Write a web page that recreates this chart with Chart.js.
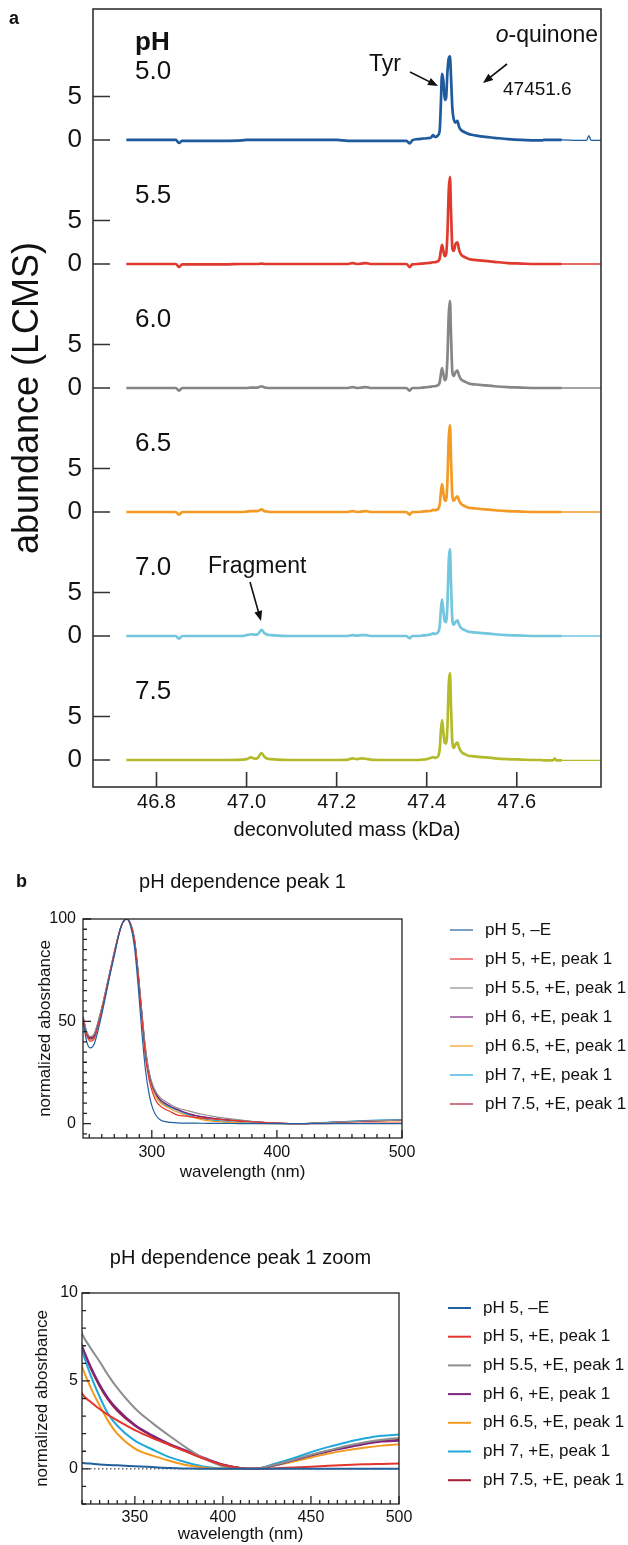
<!DOCTYPE html>
<html>
<head>
<meta charset="utf-8">
<script src="https://cdn.jsdelivr.net/npm/chart.js@4.4.1/dist/chart.umd.min.js"></script>
<style>
  body { margin: 0; background: #fff; }
  #page { position: relative; width: 628px; height: 1545px; }
  canvas { position: absolute; left: 0; }
</style>
</head>
<body>
<div id="page">
  <canvas id="lcms" width="628" height="850" style="top:0"></canvas>
  <canvas id="uvFull" width="628" height="330" style="top:860px"></canvas>
  <canvas id="uvZoom" width="628" height="315" style="top:1230px"></canvas>
</div>
<script>
Chart.defaults.font.family = "'Liberation Sans', Arial, Helvetica, sans-serif";
Chart.defaults.color = "#111";

// ---- panel a: LCMS traces ----
const massKDa = [46.733, 46.78, 46.843, 46.85, 46.857, 46.865, 46.9, 46.95, 46.99, 47.0,
  47.01, 47.018, 47.025, 47.033, 47.04, 47.047, 47.055, 47.07, 47.1, 47.15,
  47.2, 47.225, 47.235, 47.245, 47.255, 47.265, 47.275, 47.3, 47.355, 47.362,
  47.368, 47.38, 47.39, 47.40, 47.41, 47.414, 47.418, 47.422, 47.426, 47.429,
  47.431, 47.434, 47.437, 47.440, 47.443, 47.446, 47.449, 47.4516, 47.454, 47.457,
  47.460, 47.464, 47.468, 47.472, 47.476, 47.48, 47.486, 47.492, 47.50, 47.51,
  47.53, 47.55, 47.58, 47.61, 47.64, 47.655, 47.66, 47.68, 47.684, 47.688,
  47.70, 47.733, 47.755, 47.76, 47.765, 47.787];

const abund50 = [0, 0, 0, -0.35, -0.1, -0.1, -0.1, -0.1, -0.05, 0,
  0, 0, 0, 0, 0, 0, 0, 0, 0, 0,
  0, -0.1, -0.1, -0.1, -0.1, -0.1, -0.1, -0.1, -0.1, -0.4,
  -0.05, 0.1, 0.15, 0.2, 0.3, 0.55, 0.35, 0.4, 0.6, 1.2,
  3.5, 7.6, 6.8, 4.6, 4.8, 7.8, 9.4, 9.6, 7.2, 3.6,
  2.4, 2.0, 2.2, 1.5, 1.15, 1.0, 0.85, 0.7, 0.6, 0.5,
  0.35, 0.25, 0.1, 0.0, -0.05, -0.05, 0, 0, 0, 0,
  0, -0.05, -0.05, 0.5, -0.05, -0.05];
const abund55 = [0, 0, 0, -0.35, -0.05, -0.05, -0.05, -0.05, 0, 0,
  0, 0, 0, 0.05, 0, 0, 0, 0, 0, 0,
  0, 0, 0.1, 0, 0.05, 0.1, 0, 0, 0, -0.35,
  -0.05, 0, 0.05, 0.1, 0.15, 0.2, 0.2, 0.25, 0.35, 0.7,
  1.4, 2.2, 1.5, 0.9, 1.1, 3.5, 8.5, 10.0, 6.0, 1.8,
  1.5, 2.3, 2.5, 1.6, 1.1, 0.9, 0.75, 0.6, 0.5, 0.45,
  0.35, 0.25, 0.1, 0.05, 0, 0, 0, 0, 0, 0,
  0, 0, 0, 0, 0, 0];
const abund60 = [0, 0, 0, -0.3, 0, 0, 0, 0, 0, 0,
  0.05, 0.05, 0.05, 0.2, 0.05, 0, 0, 0, 0, 0,
  0, 0, 0.1, 0, 0.05, 0.1, 0, 0, 0, -0.3,
  0, 0, 0.05, 0.1, 0.15, 0.2, 0.2, 0.25, 0.35, 0.7,
  1.4, 2.3, 1.6, 0.9, 1.1, 3.5, 8.5, 10.0, 6.0, 1.8,
  1.4, 1.8, 2.0, 1.4, 1.0, 0.85, 0.7, 0.55, 0.45, 0.4,
  0.3, 0.2, 0.1, 0.05, 0, 0, 0, 0, 0, 0,
  0, 0, 0, 0, 0, 0];
const abund65 = [0, 0, 0, -0.3, 0, 0, 0, 0, 0, 0.05,
  0.1, 0.1, 0.1, 0.3, 0.1, 0.05, 0, 0, 0, 0,
  0, 0, 0.1, 0, 0.05, 0.1, 0, 0, 0, -0.3,
  0, 0, 0.05, 0.1, 0.15, 0.25, 0.2, 0.25, 0.4, 0.9,
  2.0, 3.2, 2.2, 1.3, 1.3, 3.6, 8.6, 10.0, 6.0, 1.8,
  1.3, 1.6, 1.8, 1.3, 0.95, 0.8, 0.65, 0.5, 0.45, 0.4,
  0.3, 0.2, 0.1, 0.05, 0, 0, 0, 0, 0, 0,
  0, 0, 0, 0, 0, 0];
const abund70 = [0, 0, 0, -0.3, 0, 0, 0, 0, 0, 0.1,
  0.2, 0.15, 0.2, 0.7, 0.3, 0.15, 0.1, 0.05, 0, 0,
  0, 0, 0.1, 0.05, 0.1, 0.1, 0, 0, 0, -0.25,
  0, 0, 0.05, 0.1, 0.2, 0.3, 0.25, 0.3, 0.5, 1.2,
  2.7, 4.2, 2.9, 1.7, 1.6, 3.7, 8.7, 10.0, 6.0, 1.8,
  1.3, 1.6, 1.8, 1.3, 0.95, 0.8, 0.65, 0.5, 0.45, 0.4,
  0.3, 0.2, 0.1, 0.05, 0, 0, 0, 0, 0, 0,
  0, 0, 0, 0, 0, 0];
const abund75 = [0, 0, 0, 0, 0, 0, 0, 0, 0.05, 0.1,
  0.3, 0.15, 0.25, 0.8, 0.35, 0.15, 0.1, 0.05, 0, 0,
  0, 0.05, 0.2, 0.1, 0.2, 0.15, 0.05, 0, 0, 0,
  0, 0, 0.05, 0.1, 0.25, 0.35, 0.25, 0.3, 0.5, 1.3,
  3.0, 4.6, 3.2, 2.0, 1.9, 3.8, 8.8, 10.0, 6.0, 2.0,
  1.4, 1.8, 2.0, 1.4, 1.0, 0.8, 0.65, 0.5, 0.45, 0.4,
  0.3, 0.2, 0.1, 0.05, 0, 0, -0.05, -0.05, 0.15, -0.05,
  -0.05, -0.05, -0.05, -0.05, -0.05, -0.05];

const phLabels = ["5.0", "5.5", "6.0", "6.5", "7.0", "7.5"];
const lcmsSeries = [abund50, abund55, abund60, abund65, abund70, abund75];
const lcmsColors = ["#1f5a9c", "#e03a2f", "#868686", "#f39a25", "#72c6de", "#b3bb2a"];
const massTicks = [46.8, 47.0, 47.2, 47.4, 47.6];
const abundTickLabels = [0, 5];
const traceStep = 14.25; // vertical offset between stacked traces

// ---- panel b: UV-vis spectra ----
const wavelengthNm = [245, 248, 251, 254, 258, 262, 266, 270, 274, 277, 280, 283, 286, 289, 292, 295, 298, 301, 304, 307, 310, 315,
  320, 325, 330, 335, 340, 350, 360, 370, 380, 390, 400, 410, 418,
  430, 440, 450, 460, 470, 480, 490, 500];

const absPh5NoE = [50.5, 40, 37, 39, 48, 59, 71, 82, 93, 98.5, 100, 96.5, 87, 68, 45, 26, 14, 7, 3.5, 1.8, 1.1, 0.6,
  0.35, 0.3, 0.25, 0.22, 0.2, 0.15, 0.1, 0.05, 0.02, 0, 0, 0, 0,
  0, 0, 0, 0, 0, 0, 0, 0];
const absPh5 = [52, 43, 40.2, 41.5, 50, 60.5, 72, 83, 93.5, 98.5, 100, 97.5, 90, 73, 52, 32, 21, 14.5, 10.5, 8.5, 7.3, 5.8,
  4.3, 3.8, 3.4, 3.05, 2.75, 2.2, 1.75, 1.35, 0.95, 0.55, 0.22, 0.04, 0,
  0.03, 0.07, 0.12, 0.17, 0.22, 0.26, 0.28, 0.3];
const absPh55 = [52.5, 45, 42.6, 44, 52, 62, 73, 84, 93.5, 98.5, 100, 97.8, 91, 75, 55, 37, 25, 18.5, 14.8, 12.6, 11.2, 9.3,
  7.7, 6.85, 6.1, 5.3, 4.6, 3.45, 2.6, 1.85, 1.15, 0.55, 0.15, 0.02, 0,
  0.25, 0.5, 0.8, 1.05, 1.3, 1.5, 1.65, 1.75];
const absPh6 = [52, 44, 41.5, 43, 51.5, 61.5, 72.5, 83.5, 93.5, 98.5, 100, 97.6, 90.5, 74, 54, 35.5, 24, 17.5, 13.8, 11.6, 10.2, 8.4,
  7.0, 5.8, 4.8, 4.0, 3.4, 2.5, 1.9, 1.4, 1.0, 0.6, 0.25, 0.05, 0,
  0.22, 0.48, 0.75, 1.0, 1.2, 1.4, 1.55, 1.6];
const absPh65 = [51.5, 43.5, 41, 42.5, 51, 61, 72, 83, 93.5, 98.5, 100, 97.5, 90, 73.5, 53, 34.5, 23, 16.5, 12.5, 10.2, 8.8, 7.2,
  5.8, 4.6, 3.6, 2.7, 2.0, 1.15, 0.75, 0.45, 0.2, 0.06, 0, 0, 0,
  0.2, 0.42, 0.65, 0.87, 1.05, 1.2, 1.32, 1.4];
const absPh7 = [51.5, 43.5, 41, 42.5, 51, 61, 72, 83, 93.5, 98.5, 100, 97.5, 90, 73.5, 53, 34.5, 23.5, 17, 13, 10.8, 9.4, 7.9,
  6.7, 5.3, 4.1, 3.1, 2.45, 1.6, 1.1, 0.65, 0.35, 0.12, 0.02, 0, 0,
  0.3, 0.6, 0.95, 1.25, 1.5, 1.72, 1.88, 1.95];
const absPh75 = [52, 44.5, 42, 43.5, 51.5, 61.5, 72.5, 83.5, 93.5, 98.5, 100, 97.6, 90.5, 74, 54, 35.5, 24, 17.3, 13.6, 11.4, 10, 8.3,
  6.9, 5.7, 4.7, 3.9, 3.3, 2.45, 1.85, 1.35, 0.95, 0.55, 0.22, 0.05, 0,
  0.22, 0.5, 0.78, 1.03, 1.25, 1.45, 1.58, 1.65];

const uvLabels = ["pH 5, \u2013E", "pH 5, +E, peak 1", "pH 5.5, +E, peak 1", "pH 6, +E, peak 1",
  "pH 6.5, +E, peak 1", "pH 7, +E, peak 1", "pH 7.5, +E, peak 1"];
const uvSeries = [absPh5NoE, absPh5, absPh55, absPh6, absPh65, absPh7, absPh75];
const uvColors = ["#22609f", "#e4352c", "#8e8e8e", "#7d2580", "#f39a1e", "#20a8dc", "#a41f33"];

const fullXTicks = [300, 400, 500];
const fullYTicks = [0, 50, 100];
const zoomXTicks = [350, 400, 450, 500];
const zoomYTicks = [0, 5, 10];

const FONT = "'Liberation Sans', Arial, Helvetica, sans-serif";

// ticks every `step` between min and max, majors get a label
function tickList(min, max, step) {
  const out = [];
  const k0 = Math.ceil(min / step - 1e-9);
  for (let k = k0; k * step <= max + 1e-9; k++) out.push({ value: +(k * step).toFixed(4) });
  return out;
}

// keep the plot area where the layout padding puts it
function fixWidth(w) {
  return s => { s.width = w; s.paddingTop = 0; s.paddingBottom = 0; };
}
function fixHeight(h) {
  return s => { s.height = h; s.paddingLeft = 0; s.paddingRight = 0; };
}

function arrow(ctx, x1, y1, x2, y2) {
  const a = Math.atan2(y2 - y1, x2 - x1), h = 10, w = 4;
  ctx.beginPath();
  ctx.moveTo(x1, y1);
  ctx.lineTo(x2 - h * 0.7 * Math.cos(a), y2 - h * 0.7 * Math.sin(a));
  ctx.stroke();
  ctx.beginPath();
  ctx.moveTo(x2, y2);
  ctx.lineTo(x2 - h * Math.cos(a) + w * Math.sin(a), y2 - h * Math.sin(a) - w * Math.cos(a));
  ctx.lineTo(x2 - h * Math.cos(a) - w * Math.sin(a), y2 - h * Math.sin(a) + w * Math.cos(a));
  ctx.closePath();
  ctx.fill();
}

// box round the plot and ticks pointing inward
const boxTicks = {
  id: "boxTicks",
  afterDatasetsDraw(chart) {
    const o = chart.options.plugins.boxTicks;
    const { ctx, chartArea: a } = chart;
    const xs = chart.scales.x, ys = chart.scales.y;
    ctx.save();
    ctx.strokeStyle = o.color;
    ctx.lineWidth = o.width;
    ctx.strokeRect(a.left, a.top, a.right - a.left, a.bottom - a.top);
    ctx.beginPath();
    xs.ticks.forEach(t => {
      const px = xs.getPixelForValue(t.value);
      const len = t.label === "" ? o.minor : o.xMajor;
      ctx.moveTo(px, a.bottom);
      ctx.lineTo(px, a.bottom - len);
    });
    ys.ticks.forEach(t => {
      const py = ys.getPixelForValue(t.value);
      const len = t.label === "" ? o.minor : o.yMajor;
      ctx.moveTo(a.left, py);
      ctx.lineTo(a.left + len, py);
    });
    ctx.stroke();
    ctx.restore();
  }
};

// labels and arrows of panel a
const lcmsDecor = {
  id: "lcmsDecor",
  afterDraw(chart) {
    const { ctx } = chart;
    const ys = chart.scales.y;
    ctx.save();
    ctx.fillStyle = "#111";
    ctx.strokeStyle = "#111";
    ctx.lineWidth = 1.6;
    ctx.textBaseline = "middle";
    ctx.font = "bold 18px " + FONT;
    ctx.fillText("a", 9, 19);
    ctx.font = "bold 26px " + FONT;
    ctx.fillText("pH", 135, 43);
    ctx.font = "26px " + FONT;
    phLabels.forEach((lab, i) => {
      const base = ys.getPixelForValue((5 - i) * traceStep);
      ctx.fillText(lab, 135, base - 68);
    });
    ctx.font = "23px " + FONT;
    ctx.fillText("Tyr", 369, 65);
    ctx.fillText("Fragment", 208, 567);
    const q = "-quinone";
    const qw = ctx.measureText(q).width;
    ctx.fillText(q, 598 - qw, 36);
    ctx.font = "italic 23px " + FONT;
    ctx.textAlign = "right";
    ctx.fillText("o", 598 - qw, 36);
    ctx.textAlign = "left";
    ctx.font = "19px " + FONT;
    ctx.fillText("47451.6", 503, 90);
    arrow(ctx, 410, 72, 438, 86);
    arrow(ctx, 507, 64, 483, 83);
    arrow(ctx, 250, 582, 261, 621);
    ctx.restore();
  }
};

// title, legend and panel letter of the UV charts
const uvDecor = {
  id: "uvDecor",
  afterDraw(chart) {
    const o = chart.options.plugins.uvDecor;
    const { ctx, chartArea: a } = chart;
    ctx.save();
    ctx.fillStyle = "#111";
    ctx.textBaseline = "middle";
    if (o.letter) {
      ctx.font = "bold 18px " + FONT;
      ctx.fillText(o.letter, 16, o.letterY);
    }
    ctx.font = "20px " + FONT;
    ctx.textAlign = "center";
    ctx.fillText(o.title, (a.left + a.right) / 2, o.titleY);
    ctx.textAlign = "left";
    ctx.font = "17px " + FONT;
    chart.data.datasets.forEach((ds, i) => {
      const y = o.legendTop + i * o.legendStep;
      ctx.strokeStyle = ds.borderColor;
      ctx.lineWidth = ds.borderWidth;
      ctx.beginPath();
      ctx.moveTo(o.legendX, y);
      ctx.lineTo(o.legendX + 23, y);
      ctx.stroke();
      ctx.fillText(ds.label, o.legendX + 35, y);
    });
    ctx.restore();
  }
};

const zeroLine = {
  id: "zeroLine",
  beforeDatasetsDraw(chart) {
    const { ctx, chartArea: a } = chart;
    const py = chart.scales.y.getPixelForValue(0);
    ctx.save();
    ctx.strokeStyle = "#222";
    ctx.lineWidth = 1;
    ctx.setLineDash([1.5, 2.5]);
    ctx.beginPath();
    ctx.moveTo(a.left, py);
    ctx.lineTo(a.right, py);
    ctx.stroke();
    ctx.restore();
  }
};

// ---- panel a chart ----
new Chart(document.getElementById("lcms"), {
  type: "line",
  data: {
    datasets: lcmsSeries.map((vals, i) => ({
      label: "pH " + phLabels[i],
      data: massKDa.map((m, j) => ({ x: m, y: vals[j] + (5 - i) * traceStep })),
      borderColor: lcmsColors[i],
      borderWidth: 2.7,
      pointRadius: 0,
      cubicInterpolationMode: "monotone",
      segment: { borderWidth: c => (c.p0.parsed.x >= 47.69 ? 1.3 : 2.7) }
    }))
  },
  options: {
    responsive: false,
    animation: false,
    events: [],
    layout: { padding: { top: 9, right: 27, left: 0, bottom: 0 } },
    plugins: {
      legend: { display: false },
      tooltip: { enabled: false },
      boxTicks: { color: "#333", width: 1.6, xMajor: 15, yMajor: 17, minor: 8 }
    },
    scales: {
      x: {
        type: "linear", min: 46.659, max: 47.787,
        grid: { display: false, drawTicks: false }, border: { display: false },
        afterBuildTicks: s => { s.ticks = massTicks.map(v => ({ value: v })); },
        afterFit: fixHeight(63),
        ticks: { autoSkip: false, maxRotation: 0, padding: 3, font: { size: 20 }, color: "#111",
          callback: v => v.toFixed(1) },
        title: { display: true, text: "deconvoluted mass (kDa)", color: "#111",
          font: { size: 20 }, padding: { top: 0, bottom: 8 } }
      },
      y: {
        type: "linear", min: -3.1, max: 86.3,
        grid: { display: false, drawTicks: false }, border: { display: false },
        afterBuildTicks: s => {
          const t = [];
          for (let i = 5; i >= 0; i--) abundTickLabels.forEach(v => t.push({ value: (5 - i) * traceStep + v }));
          s.ticks = t;
        },
        afterFit: fixWidth(93),
        ticks: { autoSkip: false, padding: 11, font: { size: 26 }, color: "#111",
          callback: (v, i) => String(abundTickLabels[i % 2]) },
        title: { display: true, text: "abundance (LCMS)", color: "#111",
          font: { size: 36 }, padding: { top: 6, bottom: 0 } }
      }
    }
  },
  plugins: [boxTicks, lcmsDecor]
});

// ---- panel b charts ----
function uvChart(id, cfg) {
  return new Chart(document.getElementById(id), {
    type: "line",
    data: {
      datasets: uvSeries.map((vals, i) => ({
        label: uvLabels[i],
        data: wavelengthNm.map((w, j) => ({ x: w, y: vals[j] })),
        borderColor: uvColors[i],
        borderWidth: cfg.lineWidth,
        pointRadius: 0,
        cubicInterpolationMode: "monotone"
      }))
    },
    options: {
      responsive: false,
      animation: false,
      events: [],
      layout: { padding: cfg.padding },
      plugins: {
        legend: { display: false },
        tooltip: { enabled: false },
        boxTicks: { color: "#222", width: 1.3, xMajor: 8, yMajor: 8, minor: 4 },
        uvDecor: cfg.decor
      },
      scales: {
        x: {
          type: "linear", min: cfg.xMin, max: cfg.xMax,
          grid: { display: false, drawTicks: false }, border: { display: false },
          afterBuildTicks: s => { s.ticks = tickList(cfg.xMin, cfg.xMax, cfg.xMinor); },
          afterFit: fixHeight(cfg.xHeight),
          ticks: { autoSkip: false, maxRotation: 0, padding: cfg.xPad, font: { size: 16 }, color: "#111",
            callback: v => (cfg.xTicks.includes(v) ? String(v) : "") },
          title: { display: true, text: "wavelength (nm)", color: "#111",
            font: { size: 17 }, padding: { top: 0, bottom: cfg.xTitlePad } }
        },
        y: {
          type: "linear", min: cfg.yMin, max: cfg.yMax,
          grid: { display: false, drawTicks: false }, border: { display: false },
          afterBuildTicks: s => { s.ticks = tickList(cfg.yMin, cfg.yMax, cfg.yMinor); },
          afterFit: fixWidth(cfg.yWidth),
          ticks: { autoSkip: false, padding: cfg.yPad, font: { size: 16 }, color: "#111",
            callback: v => (cfg.yTicks.includes(v) ? String(v) : "") },
          title: { display: true, text: "normalized abosrbance", color: "#111",
            font: { size: 17 }, padding: { top: cfg.yTitlePad, bottom: 0 } }
        }
      }
    },
    plugins: cfg.extra.concat([boxTicks, uvDecor])
  });
}

uvChart("uvFull", {
  lineWidth: 1.2,
  padding: { top: 59, right: 226, left: 0, bottom: 0 },
  xMin: 245, xMax: 500, xMinor: 10, xTicks: fullXTicks,
  yMin: -7, yMax: 100, yMinor: 5, yTicks: fullYTicks,
  xHeight: 52, yWidth: 83, xPad: 5, yPad: 7, xTitlePad: 7, yTitlePad: 35,
  decor: { letter: "b", letterY: 22, title: "pH dependence peak 1", titleY: 22,
    legendX: 450, legendTop: 70, legendStep: 29 },
  extra: []
});

uvChart("uvZoom", {
  lineWidth: 2,
  padding: { top: 63, right: 229, left: 0, bottom: 0 },
  xMin: 320, xMax: 500, xMinor: 5, xTicks: zoomXTicks,
  yMin: -2, yMax: 10, yMinor: 1, yTicks: zoomYTicks,
  xHeight: 41, yWidth: 82, xPad: 4, yPad: 4, xTitlePad: 0, yTitlePad: 32,
  decor: { letter: "", letterY: 0, title: "pH dependence peak 1 zoom", titleY: 28,
    legendX: 448, legendTop: 78, legendStep: 28.7 },
  extra: [zeroLine]
});
</script>
</body>
</html>
